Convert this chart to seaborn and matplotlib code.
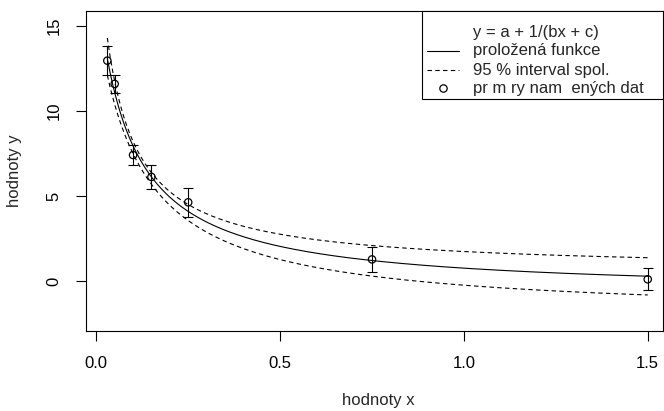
import numpy as np
import pandas as pd
import matplotlib
matplotlib.use("Agg")
import matplotlib.pyplot as plt
import seaborn as sns
from matplotlib.lines import Line2D
from matplotlib.patches import Rectangle

# ---- data ----
x_obs = [0.03, 0.05, 0.10, 0.15, 0.25, 0.75, 1.50]
y_obs = [12.96, 11.59, 7.41, 6.12, 4.63, 1.27, 0.10]
y_err = [0.86, 0.51, 0.59, 0.70, 0.85, 0.75, 0.64]

# fitted model y = a + 1/(b x + c) and its 95 % band (same form)
fit_abc = [-0.75, 0.61, 0.054]
upper_abc = [0.60, 0.834, 0.048]
lower_abc = [-2.10, 0.4837, 0.0559]

x_ticks = [0.0, 0.5, 1.0, 1.5]
x_tick_labels = ["0.0", "0.5", "1.0", "1.5"]
y_ticks = [0, 5, 10, 15]
y_tick_labels = ["0", "5", "10", "15"]

legend_labels = ["y = a + 1/(bx + c)", "proložená funkce",
                 "95 % interval spol.", "pr m ry nam  ených dat"]

# ---- build curves ----
xs = np.linspace(min(x_obs), max(x_obs), 400)
def model(p, x):
    a, b, c = p
    return a + 1.0 / (b * x + c)

curves = pd.DataFrame({
    "x": np.concatenate([xs, xs, xs]),
    "y": np.concatenate([model(fit_abc, xs), model(upper_abc, xs), model(lower_abc, xs)]),
    "kind": ["fit"] * len(xs) + ["upper"] * len(xs) + ["lower"] * len(xs),
})
obs = pd.DataFrame({"x": x_obs, "y": y_obs, "err": y_err})

sns.set_style("white")
plt.rcParams["font.family"] = ["Liberation Sans", "DejaVu Sans"]
plt.rcParams["font.size"] = 12

W, H = 664, 411
fig = plt.figure(figsize=(W / 100, H / 100), dpi=100)
ax = fig.add_axes([86 / W, (H - 331) / H, (663 - 86) / W, (331 - 11) / H])

lw = 0.8
dash = (0, (4, 3))
sns.lineplot(data=curves[curves.kind == "fit"], x="x", y="y", color="black",
             linewidth=lw, ax=ax, legend=False)
for k in ["upper", "lower"]:
    sns.lineplot(data=curves[curves.kind == k], x="x", y="y", color="black",
                 linewidth=lw, ax=ax, legend=False, linestyle=dash)

ax.errorbar(obs.x, obs.y, yerr=obs.err, fmt="none", ecolor="black",
            elinewidth=lw, capsize=3.9, capthick=lw)
sns.scatterplot(data=obs, x="x", y="y", marker="o", s=28, facecolors="none",
                edgecolor="black", linewidth=0.9, ax=ax, legend=False)

ax.set_xlim(-0.028, 1.5415)
ax.set_ylim(-2.94, 15.88)
ax.set_xticks(x_ticks)
ax.set_xticklabels(x_tick_labels)
ax.set_yticks(y_ticks)
ax.set_yticklabels(y_tick_labels, rotation=90, va="center")
ax.tick_params(axis="both", direction="out", length=7.2, width=lw, pad=10.5,
               colors="black", labelsize=12, bottom=True, left=True)

for s in ax.spines.values():
    s.set_color("black")
    s.set_linewidth(lw)

ax.set_xlabel("hodnoty x", fontsize=12)
ax.set_ylabel("hodnoty y", fontsize=12)
ax.xaxis.set_label_coords((378 - 86) / 577, (331 - 400) / 320)
ax.xaxis.label.set_va("center")
ax.yaxis.set_label_coords((15 - 86) / 577, 0.5)
ax.yaxis.label.set_va("center")

# ---- legend (R style, top-right) ----
def fx(px):
    return px / W
def fy(py):
    return 1 - py / H

fig.add_artist(Rectangle((fx(422), fy(99)), fx(663) - fx(422), fy(11) - fy(99),
                         transform=fig.transFigure, facecolor="white",
                         edgecolor="black", linewidth=lw, zorder=5))
rows = [32, 51, 70, 88]
for lab, ry in zip(legend_labels, rows):
    fig.text(fx(473), fy(ry), lab, ha="left", va="center", fontsize=12, zorder=6)
fig.add_artist(Line2D([fx(427), fx(459)], [fy(rows[1])] * 2, transform=fig.transFigure,
                      color="black", linewidth=lw, zorder=6))
fig.add_artist(Line2D([fx(427), fx(459)], [fy(rows[2])] * 2, transform=fig.transFigure,
                      color="black", linewidth=lw, linestyle=dash, zorder=6))
fig.add_artist(Line2D([fx(443)], [fy(rows[3])], transform=fig.transFigure,
                      color="black", linestyle="none", marker="o", markersize=5.3,
                      markerfacecolor="none", markeredgewidth=0.9, zorder=6))

fig.savefig("out.png", dpi=100, facecolor="white")
